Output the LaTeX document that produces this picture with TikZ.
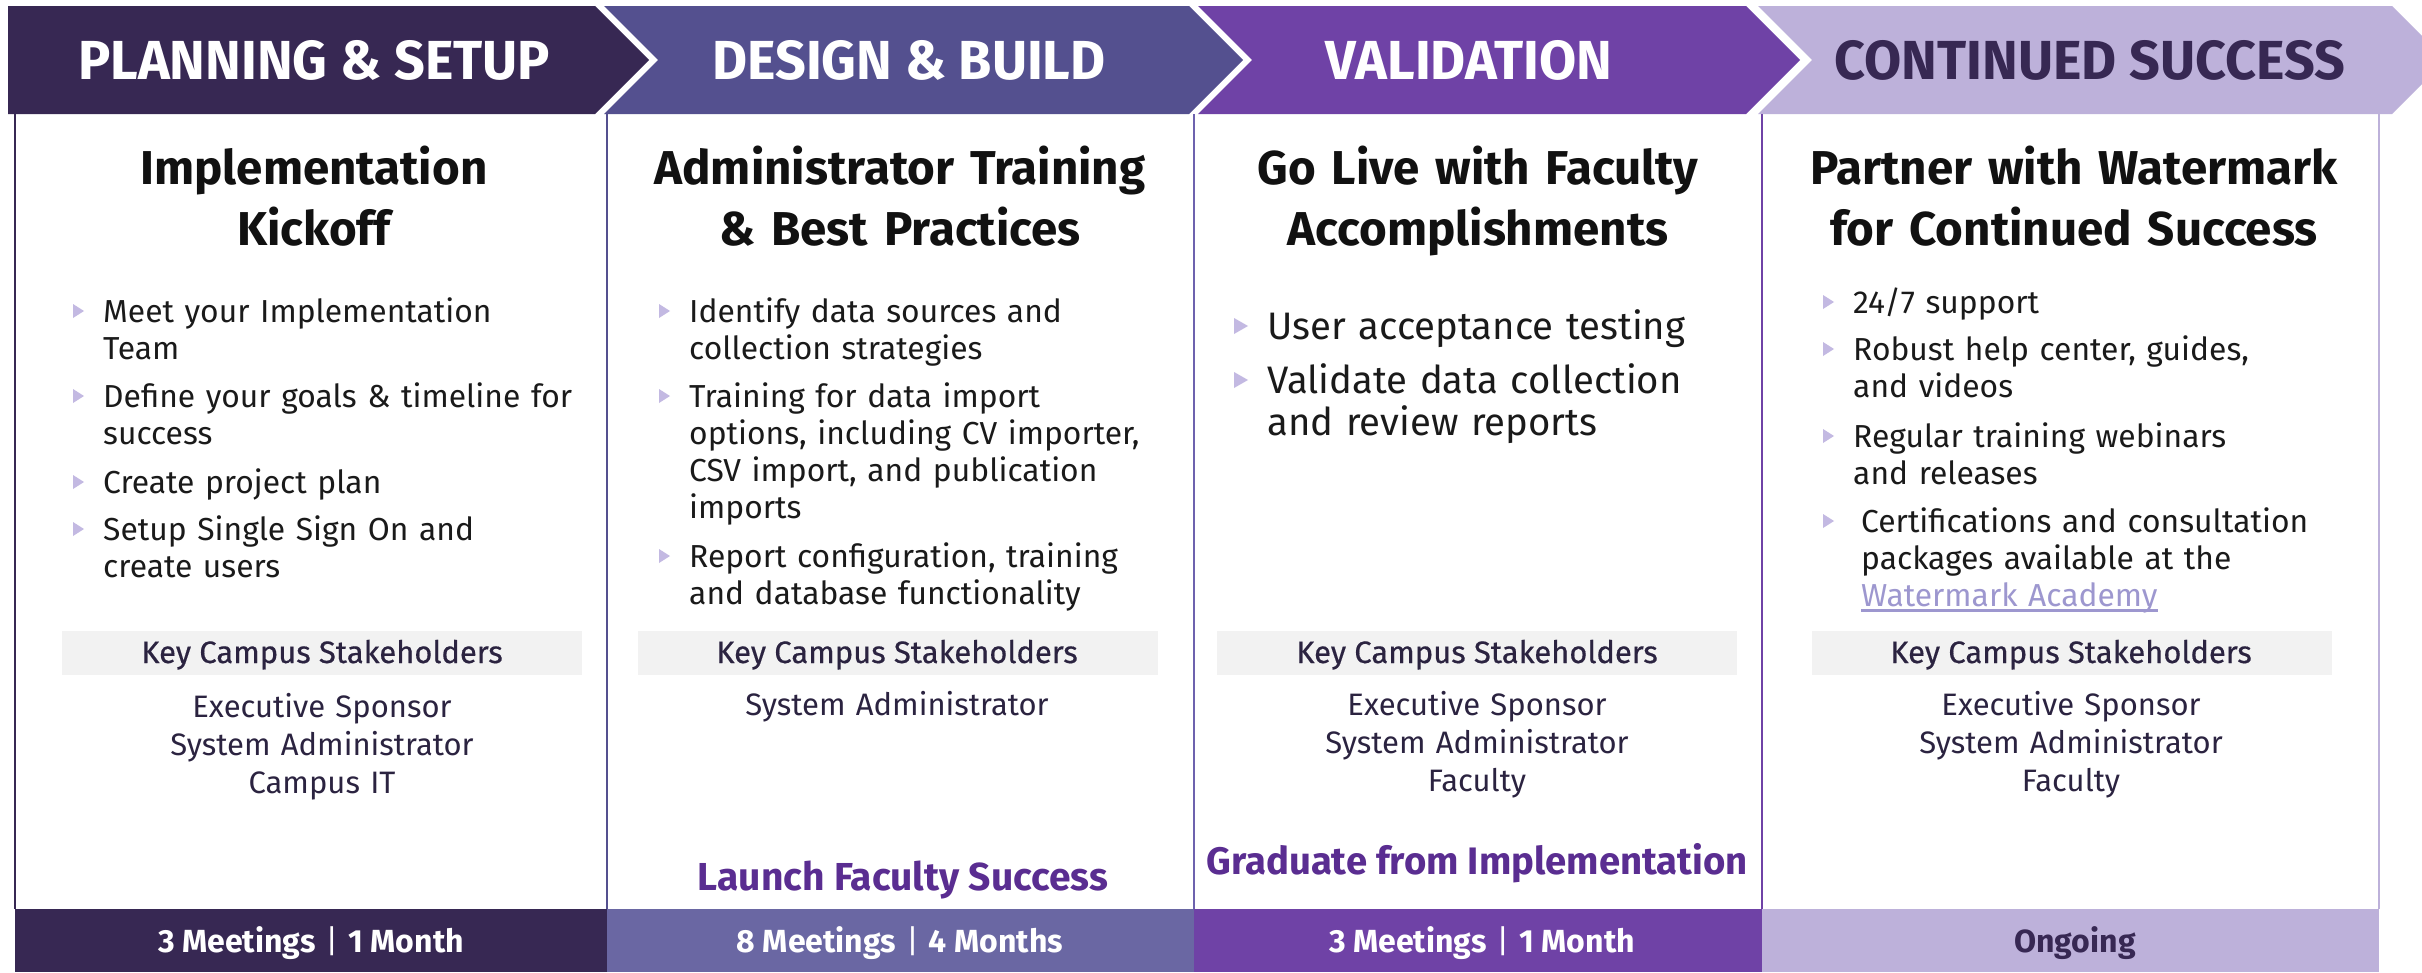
\documentclass[tikz,border=0pt]{standalone}
\usepackage{fontspec}
\setmainfont{Fira Sans}
\newfontfamily\hdr{Fira Sans}[FakeStretch=0.98]
\newfontfamily\nar{Fira Sans}
\newfontfamily\med{Fira Sans}[FakeBold=0.5]
\usetikzlibrary{calc}
\definecolor{cA}{HTML}{372853}
\definecolor{cB}{HTML}{54508F}
\definecolor{cBf}{HTML}{6A67A3}
\definecolor{cC}{HTML}{6F42A6}
\definecolor{cD}{HTML}{BDB1DA}
\definecolor{lineB}{HTML}{6D62AE}
\definecolor{titlec}{HTML}{111111}
\definecolor{bodyc}{HTML}{1A1A1A}
\definecolor{skc}{HTML}{2B2340}
\definecolor{boxc}{HTML}{F2F2F2}
\definecolor{milec}{HTML}{5A2D91}
\definecolor{linkc}{HTML}{9D97CF}
\definecolor{bulc}{HTML}{C3B9E2}
\newcommand\bitem[5]{%
  \fill[bulc] (#2-30,#3-18) -- (#2-19,#3-11) -- (#2-30,#3-4) -- cycle;
  \node[btext] (#1) at (#2,#3) {#5};}
\newcommand\bitemL[5]{%
  \fill[bulc] (#2-33,#3-21) -- (#2-19,#3-13) -- (#2-33,#3-5) -- cycle;
  \node[btextL] (#1) at (#2,#3) {#5};}
\newcommand\bitemR[5]{%
  \fill[bulc] (1823,#3-18) -- (1834,#3-11) -- (1823,#3-4) -- cycle;
  \node[btext] (#1) at (#2,#3) {#5};}
\newcommand\mylink[1]{\setbox0\hbox{#1}\leavevmode\rlap{\rule[-6pt]{\wd0}{3pt}}\box0}
\begin{document}
\begin{tikzpicture}[x=1pt,y=-1pt,
  hdrtxt/.style={font=\hdr\bfseries\fontsize{55}{60}\selectfont, text=white, anchor=base, inner sep=0},
  ttl/.style={font=\bfseries\fontsize{47.5}{61}\selectfont, text=titlec, align=center, text width=600pt, anchor=base, inner sep=0},
  btext/.style={font=\fontsize{31.8}{37}\selectfont, text=bodyc, align=left, text width=520pt, anchor=base west, inner sep=0},
  btextL/.style={font=\fontsize{38.3}{42}\selectfont, text=bodyc, align=left, text width=520pt, anchor=base west, inner sep=0},
  skbox/.style={fill=boxc, draw=none, inner sep=0, minimum width=520pt, minimum height=44pt, anchor=north west},
  skhead/.style={font=\med\fontsize{31}{36}\selectfont, text=skc, anchor=base, inner sep=0},
  skname/.style={font=\nar\fontsize{31}{38}\selectfont, text=skc, align=center, anchor=base, inner sep=0, text width=500pt},
  milestone/.style={font=\bfseries\fontsize{39}{44}\selectfont, text=milec, anchor=base, inner sep=0},
  foot/.style={font=\bfseries\fontsize{32}{36}\selectfont, text=white, anchor=base, inner sep=0},
  colline/.style={line width=2.5pt}]
\useasboundingbox (0,0) rectangle (2422,972);
\fill[white] (0,0) rectangle (2422,972);
% header chevrons
\begin{scope}
\clip (0,0) rectangle (2422,972);
\fill[cA] (8,6) -- (595,6) -- (649,60) -- (595,114) -- (8,114) -- cycle;
\fill[cB] (604,6) -- (1189,6) -- (1243,60) -- (1189,114) -- (604,114) -- (658,60) -- cycle;
\fill[cC] (1198,6) -- (1746,6) -- (1800,60) -- (1746,114) -- (1198,114) -- (1252,60) -- cycle;
\fill[cD] (1758,6) -- (2392,6) -- (2446,60) -- (2392,114) -- (1758,114) -- (1812,60) -- cycle;
\end{scope}
\node[hdrtxt] (h1) at (314,79) {PLANNING \& SETUP};
\node[hdrtxt] (h2) at (909,79) {DESIGN \& BUILD};
\node[hdrtxt] (h3) at (1469,79) {VALIDATION};
\node[hdrtxt, text=cA] (h4) at (2090,79) {CONTINUED SUCCESS};
% column lines
\draw[colline, cA] (15,114) -- (15,909);
\draw[colline, cB] (607,114) -- (607,909);
\draw[colline, lineB] (1194,114) -- (1194,909);
\draw[colline, cC] (1762,114) -- (1762,909);
\draw[colline, cD] (2379,114) -- (2379,909);
% titles
\node[ttl] (t1) at (314,184) {Implementation\\Kickoff};
\node[ttl] (t2) at (900,184) {Administrator Training\\\& Best Practices};
\node[ttl] (t3) at (1478,184) {Go Live with Faculty\\Accomplishments};
\node[ttl] (t4) at (2074,184) {Partner with Watermark\\for Continued Success};
% column 1 bullets
\bitem{a1}{103}{322}{}{Meet your Implementation\\Team}
\bitem{a2}{103}{407}{}{Define your goals \& timeline for\\success}
\bitem{a3}{103}{493}{}{Create project plan}
\bitem{a4}{103}{540}{}{Setup Single Sign On and\\create users}
% column 2 bullets
\bitem{b1}{689}{322}{}{Identify data sources and\\collection strategies}
\bitem{b2}{689}{407}{}{Training for data import\\options, including CV importer,\\CSV import, and publication\\imports}
\bitem{b3}{689}{567}{}{Report configuration, training\\and database functionality}
% column 3 bullets
\bitemL{c1}{1267}{339}{}{User acceptance testing}
\bitemL{c2}{1267}{393}{}{Validate data collection\\and review reports}
% column 4 bullets
\bitemR{d1}{1853}{313}{}{24/7 support}
\bitemR{d2}{1853}{360}{}{Robust help center, guides,\\and videos}
\bitemR{d3}{1853}{447}{}{Regular training webinars\\and releases}
\bitemR{d4}{1861}{532}{}{Certifications and consultation\\packages available at the\\{\color{linkc}\mylink{Watermark Academy}}}
% stakeholder boxes
\node[skbox] (k1) at (62,631) {};
\node[skbox] (k2) at (638,631) {};
\node[skbox] (k3) at (1217,631) {};
\node[skbox] (k4) at (1812,631) {};
\node[skhead] (kh1) at (322,663) {Key Campus Stakeholders};
\node[skhead] (kh2) at (897,663) {Key Campus Stakeholders};
\node[skhead] (kh3) at (1477,663) {Key Campus Stakeholders};
\node[skhead] (kh4) at (2071,663) {Key Campus Stakeholders};
\node[skname] (s1) at (322,717) {Executive Sponsor\\System Administrator\\Campus IT};
\node[skname] (s2) at (897,715) {System Administrator};
\node[skname] (s3) at (1477,715) {Executive Sponsor\\System Administrator\\Faculty};
\node[skname] (s4) at (2071,715) {Executive Sponsor\\System Administrator\\Faculty};
% milestones
\node[milestone] (m2) at (903,890) {Launch Faculty Success};
\node[milestone, font=\bfseries\fontsize{38.3}{44}\selectfont] (m3) at (1477,874) {Graduate from Implementation};
% footer
\fill[cA] (15,909) rectangle (607,972);
\fill[cBf] (607,909) rectangle (1194,972);
\fill[cC] (1194,909) rectangle (1762,972);
\fill[cD] (1762,909) rectangle (2379,972);
\node[foot] (f1) at (311,952) {3 Meetings\hspace{10pt}{\mdseries|}\hspace{10pt}1 Month};
\node[foot] (f2) at (900,952) {8 Meetings\hspace{10pt}{\mdseries|}\hspace{10pt}4 Months};
\node[foot] (f3) at (1482,952) {3 Meetings\hspace{10pt}{\mdseries|}\hspace{10pt}1 Month};
\node[foot, text=cA] (f4) at (2075,952) {Ongoing};
\end{tikzpicture}
\end{document}
